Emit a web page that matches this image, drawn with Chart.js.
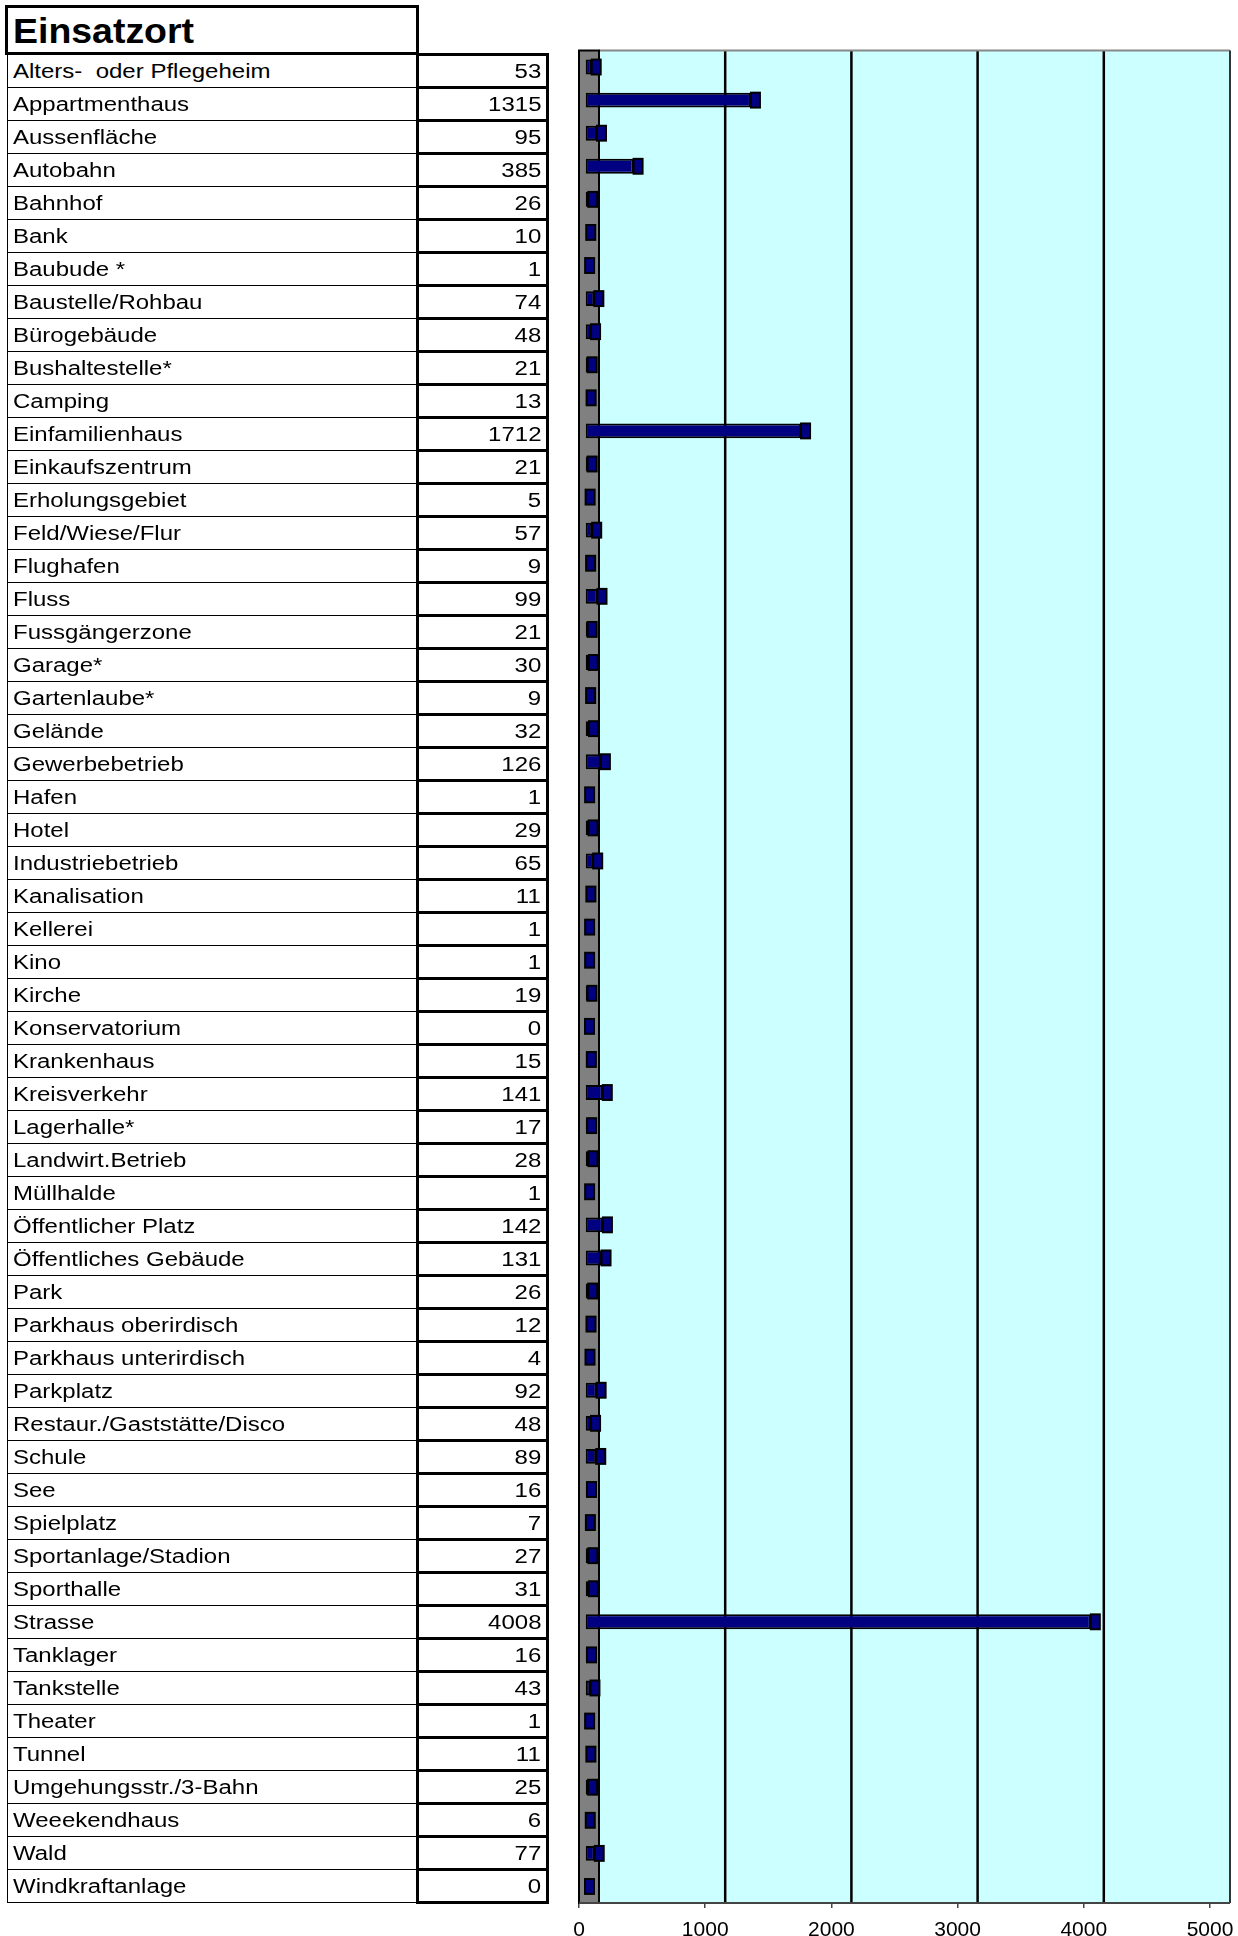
<!DOCTYPE html>
<html>
<head>
<meta charset="utf-8">
<title>Einsatzort</title>
<script src="https://cdn.jsdelivr.net/npm/chart.js@4.4.1/dist/chart.umd.min.js"></script>
<style>
  body { margin: 0; background: #fff; font-family: "Liberation Sans", Arial, sans-serif; color: #000; }
  #page { position: relative; width: 1238px; height: 1936px; overflow: hidden; }
  #title { position: absolute; left: 5px; top: 5px; width: 414px; height: 50px; border: 3px solid #000; box-sizing: border-box; }
  #title span { position: absolute; left: 5px; top: 4px; font-weight: bold; font-size: 35px; line-height: 38px; white-space: pre; transform: scaleX(1.07); transform-origin: left center; }
  .lab { position: absolute; left: 7px; width: 411px; height: 34px; border: 1px solid #000; border-right: none; box-sizing: border-box; }
  .lab span { position: absolute; left: 5px; top: 0; font-size: 20px; line-height: 32px; white-space: pre; transform: scaleX(1.2); transform-origin: left center; }
  .val { position: absolute; left: 416px; width: 133px; height: 36px; border: 3px solid #000; box-sizing: border-box; }
  .val span { position: absolute; right: 5px; top: 0; font-size: 20px; line-height: 30px; white-space: pre; transform: scaleX(1.2); transform-origin: right center; }
  #chartBox { position: absolute; left: 540px; top: 0; width: 698px; height: 1936px; }
</style>
</head>
<body>
<div id="page">
  <div id="title"><span>Einsatzort</span></div>
  <div id="chartBox"><canvas id="myChart"></canvas></div>
</div>
<script>
// data
const titleText = 'Einsatzort';
const places = [
  'Alters-  oder Pflegeheim', 'Appartmenthaus', 'Aussenfläche', 'Autobahn', 'Bahnhof', 'Bank',
  'Baubude *', 'Baustelle/Rohbau', 'Bürogebäude', 'Bushaltestelle*', 'Camping', 'Einfamilienhaus',
  'Einkaufszentrum', 'Erholungsgebiet', 'Feld/Wiese/Flur', 'Flughafen', 'Fluss', 'Fussgängerzone',
  'Garage*', 'Gartenlaube*', 'Gelände', 'Gewerbebetrieb', 'Hafen', 'Hotel', 'Industriebetrieb',
  'Kanalisation', 'Kellerei', 'Kino', 'Kirche', 'Konservatorium', 'Krankenhaus', 'Kreisverkehr',
  'Lagerhalle*', 'Landwirt.Betrieb', 'Müllhalde', 'Öffentlicher Platz', 'Öffentliches Gebäude',
  'Park', 'Parkhaus oberirdisch', 'Parkhaus unterirdisch', 'Parkplatz', 'Restaur./Gaststätte/Disco',
  'Schule', 'See', 'Spielplatz', 'Sportanlage/Stadion', 'Sporthalle', 'Strasse', 'Tanklager',
  'Tankstelle', 'Theater', 'Tunnel', 'Umgehungsstr./3-Bahn', 'Weeekendhaus', 'Wald', 'Windkraftanlage'
];
const counts = [
  53, 1315, 95, 385, 26, 10,
  1, 74, 48, 21, 13, 1712,
  21, 5, 57, 9, 99, 21,
  30, 9, 32, 126, 1, 29, 65,
  11, 1, 1, 19, 0, 15, 141,
  17, 28, 1, 142, 131,
  26, 12, 4, 92, 48,
  89, 16, 7, 27, 31, 4008, 16,
  43, 1, 11, 25, 6, 77, 0
];
const xTicks = [0, 1000, 2000, 3000, 4000, 5000];

// the table on the left
const page = document.getElementById('page');
document.querySelector('#title span').textContent = titleText;
places.forEach((name, i) => {
  const top = 54 + 33 * i;
  const lab = document.createElement('div');
  lab.className = 'lab';
  lab.style.top = (top - 0.5) + 'px';
  lab.innerHTML = '<span></span>';
  lab.firstChild.textContent = name;
  page.appendChild(lab);

  const val = document.createElement('div');
  val.className = 'val';
  val.style.top = (top - 1.5) + 'px';
  val.innerHTML = '<span>' + counts[i] + '</span>';
  page.appendChild(val);
});

// fake excel 3d look
const depth = 20;
const barShift = 6;
const capW = 9;

const wall3d = {
  id: 'wall3d',
  beforeDatasetsDraw(chart) {
    const ctx = chart.ctx;
    const a = chart.chartArea;
    const x = chart.scales.x;
    const left = a.left + depth;
    const right = x.getPixelForValue(xTicks[xTicks.length - 1]) + depth;
    const line = (x1, y1, x2, y2) => { ctx.beginPath(); ctx.moveTo(x1, y1); ctx.lineTo(x2, y2); ctx.stroke(); };

    ctx.save();
    ctx.fillStyle = '#ccffff';
    ctx.fillRect(left, a.top, right - left, a.bottom - a.top);

    ctx.strokeStyle = '#000';
    ctx.lineWidth = 2.5;
    xTicks.slice(1, -1).forEach(v => {
      const px = x.getPixelForValue(v) + depth;
      line(px, a.top, px, a.bottom);
    });

    ctx.lineWidth = 2;
    ctx.strokeStyle = '#888';
    line(left, a.top, right, a.top);
    ctx.strokeStyle = '#333';
    line(right, a.top, right, a.bottom);

    ctx.fillStyle = '#808080';
    ctx.fillRect(a.left, a.top, depth, a.bottom - a.top);
    ctx.strokeStyle = '#000';
    ctx.strokeRect(a.left, a.top, depth, a.bottom - a.top);

    ctx.strokeStyle = '#444';
    line(a.left, a.bottom, right, a.bottom);
    ctx.restore();

    ctx.save();
    ctx.translate(barShift, 0);
  },
  afterDatasetsDraw(chart) {
    const ctx = chart.ctx;
    chart.getDatasetMeta(0).data.forEach(el => {
      const p = el.getProps(['x', 'y', 'height'], true);
      ctx.fillStyle = '#000080';
      ctx.fillRect(p.x, p.y - p.height / 2, capW, p.height);
      ctx.strokeStyle = '#000';
      ctx.lineWidth = 2;
      ctx.strokeRect(p.x, p.y - p.height / 2, capW, p.height);
    });
    ctx.restore();
  }
};

const ctx = document.getElementById('myChart').getContext('2d');
const chart = new Chart(ctx, {
  type: 'bar',
  data: {
    labels: places,
    datasets: [{
      data: counts,
      backgroundColor: '#000080',
      borderColor: '#000',
      borderWidth: 2,
      borderSkipped: false,
      barPercentage: 0.45,
      categoryPercentage: 1
    }]
  },
  options: {
    indexAxis: 'y',
    responsive: true,
    maintainAspectRatio: false,
    animation: false,
    layout: { padding: { left: 39, right: 28, top: 50.5, bottom: 0 } },
    plugins: { legend: { display: false }, tooltip: { enabled: false } },
    scales: {
      y: { display: false },
      x: {
        min: 0,
        max: 5000,
        afterBuildTicks: s => { s.ticks = xTicks.map(v => ({ value: v })); },
        afterFit: s => { s.height = 33; s.paddingLeft = 0; s.paddingRight = 0; },
        grid: { drawOnChartArea: false, drawTicks: true, tickLength: 5, color: '#444', lineWidth: 1.5 },
        border: { display: false },
        ticks: {
          padding: 10,
          color: '#000',
          maxRotation: 0,
          font: { family: 'Liberation Sans', size: 21 },
          callback: v => String(v)
        }
      }
    }
  },
  plugins: [wall3d]
});
</script>
</body>
</html>
